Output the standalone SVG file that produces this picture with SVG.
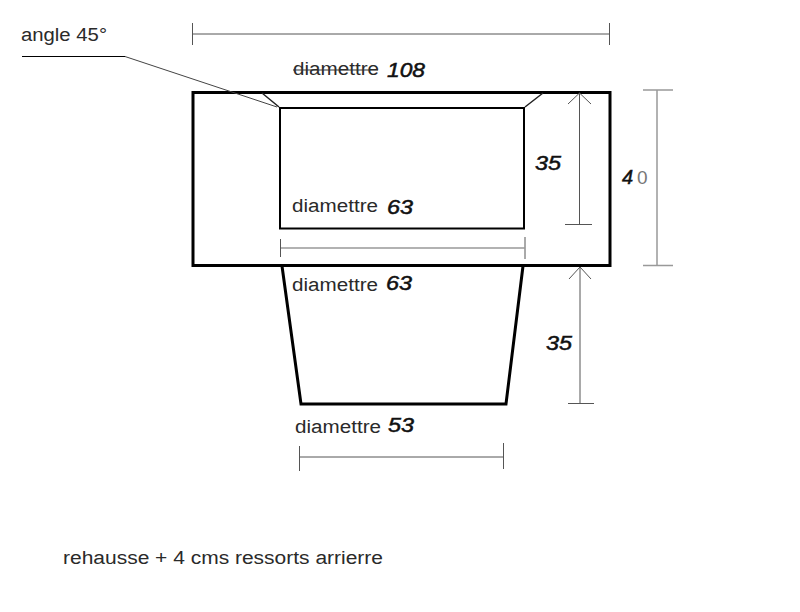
<svg xmlns="http://www.w3.org/2000/svg" width="800" height="612" viewBox="0 0 800 612">
<style>
text{font-family:"Liberation Sans",Arial,sans-serif;font-size:18px;fill:#2a2a2a}
.n{font-style:italic;fill:#111;font-size:20px;stroke:#111;stroke-width:.5}
.heavy{fill:none;stroke:#000;stroke-width:3}
.med{fill:none;stroke:#000;stroke-width:2}
.thin{fill:none;stroke:#555;stroke-width:1}
.gray{fill:none;stroke:#999;stroke-width:1.5}
</style>
<rect width="800" height="612" fill="#fff"/>
<g id="body"><rect class="heavy" x="193" y="92.500" width="417" height="173"/></g>
<g id="bore"><rect class="med" x="280" y="108" width="244" height="120.500"/>
<path class="thin" d="M262 93L279 107M543 93L525 107" style="stroke:#222;stroke-width:1.500"/></g>
<g id="cone"><path class="heavy" d="M282 266L301 404H506L523 266"/></g>
<g id="connectors">
<path class="thin" d="M192.500 23V45M192.500 34H609.500M609.500 23V45"/>
<path class="thin" d="M22 56.500H125" style="stroke:#000"/>
<path class="thin" d="M125 56.500L277 107" style="stroke:#444"/>
<path class="thin" d="M579.500 93V224M568 104L579.500 93L591 104M565 224.500H592"/>
<path class="gray" d="M657 90V265M643 90H673M643 265.500H673"/>
<path class="thin" d="M280.500 239V257M525 237V259"/><path class="gray" d="M281 248H525"/>
<path class="thin" d="M580 267V403M569 279L580 267L591 279M568 403.500H594"/>
<path class="thin" d="M299.500 446V471M503.500 443V469M299.500 457H503.500"/>
</g>
<g id="labels">
<text x="21" y="41" textLength="86" lengthAdjust="spacingAndGlyphs">angle 45°</text>
<text x="293" y="75" textLength="86" lengthAdjust="spacingAndGlyphs">diamettre</text><path d="M293 70H378" stroke="#333" stroke-width="1"/>
<text class="n" x="387" y="77" textLength="38" lengthAdjust="spacingAndGlyphs">108</text>
<text x="292" y="212" textLength="86" lengthAdjust="spacingAndGlyphs">diamettre</text><text class="n" x="387" y="214" textLength="26" lengthAdjust="spacingAndGlyphs">63</text>
<text class="n" x="535" y="170" textLength="26" lengthAdjust="spacingAndGlyphs">35</text>
<text class="n" x="622" y="184">4</text><text x="637" y="184" style="font-size:19px;fill:#777">0</text>
<text x="292" y="291" textLength="86" lengthAdjust="spacingAndGlyphs">diamettre</text><text class="n" x="386" y="290" textLength="26" lengthAdjust="spacingAndGlyphs">63</text>
<text class="n" x="546" y="350" textLength="26" lengthAdjust="spacingAndGlyphs">35</text>
<text x="295" y="433" textLength="86" lengthAdjust="spacingAndGlyphs">diamettre</text><text class="n" x="388" y="432" textLength="26" lengthAdjust="spacingAndGlyphs">53</text>
<text x="63" y="564" textLength="320" lengthAdjust="spacingAndGlyphs">rehausse + 4 cms ressorts arrierre</text>
</g>
</svg>
